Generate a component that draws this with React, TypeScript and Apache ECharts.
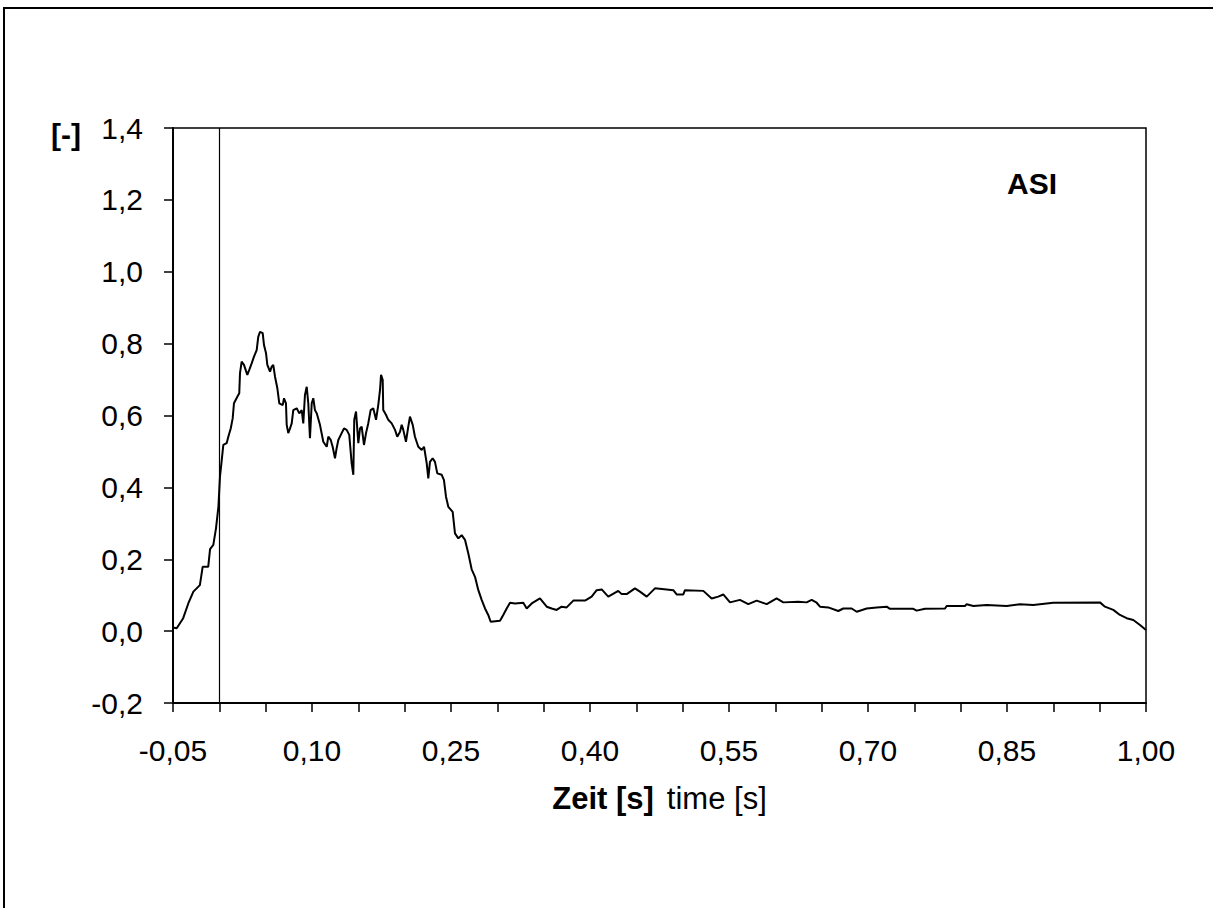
import React, { useEffect, useRef } from "react";
import * as echarts from "echarts";

const timeS = [
  -0.05, -0.046, -0.039, -0.0335, -0.028, -0.021, -0.018, -0.012, -0.010, -0.0065,
  -0.0036, -0.001, 0.0007, 0.0026, 0.0043, 0.0079, 0.0097, 0.0123, 0.0144, 0.0158,
  0.0194, 0.0215, 0.0223, 0.0241, 0.0266, 0.0302, 0.0323, 0.0349, 0.0374, 0.0403,
  0.042, 0.0439, 0.0468, 0.0482, 0.0504, 0.0518, 0.0547, 0.0565, 0.0582, 0.0601,
  0.0626, 0.0647, 0.0684, 0.0698, 0.0719, 0.0727, 0.0744, 0.0763, 0.0781, 0.0798,
  0.0835, 0.0863, 0.0889, 0.0906, 0.0924, 0.0943, 0.096, 0.0978, 0.0997, 0.1014,
  0.1032, 0.1051, 0.1086, 0.1122, 0.1159, 0.1176, 0.1202, 0.1223, 0.1248, 0.1266,
  0.1284, 0.132, 0.1345, 0.1374, 0.1402, 0.1428, 0.1446, 0.1456, 0.1475, 0.15,
  0.1518, 0.1536, 0.1561, 0.1583, 0.1607, 0.1633, 0.1661, 0.1691, 0.1715, 0.1734,
  0.1745, 0.1763, 0.1769, 0.1798, 0.1823, 0.186, 0.1896, 0.192, 0.195, 0.1968,
  0.1985, 0.2014, 0.2039, 0.2057, 0.2087, 0.2111, 0.2147, 0.2184, 0.2209, 0.2238,
  0.2255, 0.2273, 0.2302, 0.2327, 0.2352, 0.24, 0.2424, 0.2446, 0.2471, 0.2518,
  0.2543, 0.2579, 0.2615, 0.2651, 0.2687, 0.2723, 0.2759, 0.2795, 0.2831, 0.2867,
  0.2902, 0.2928, 0.3029, 0.3064, 0.3101, 0.3137, 0.3191, 0.328, 0.3317, 0.3371,
  0.346, 0.3533, 0.3587, 0.364, 0.3694, 0.3748, 0.382, 0.3946, 0.4018, 0.4072,
  0.4126, 0.4197, 0.4305, 0.4342, 0.4396, 0.4485, 0.4539, 0.4612, 0.4701, 0.4827,
  0.4899, 0.4935, 0.5007, 0.5025, 0.5223, 0.5313, 0.5384, 0.5438, 0.5511, 0.5618,
  0.5708, 0.5799, 0.5907, 0.6014, 0.6086, 0.6248, 0.6338, 0.6392, 0.6446, 0.6482,
  0.6571, 0.6679, 0.6733, 0.6824, 0.6878, 0.6986, 0.7094, 0.7202, 0.7237, 0.7489,
  0.7525, 0.7615, 0.7831, 0.7849, 0.8046, 0.8065, 0.8136, 0.8281, 0.8496, 0.864,
  0.8783, 0.8999, 0.9503, 0.9557, 0.9647, 0.9719, 0.9791, 0.9863, 0.9935, 1.0,
];

const asiValue = [
  0.010, 0.008, 0.036, 0.077, 0.110, 0.128, 0.179, 0.179, 0.228, 0.240,
  0.286, 0.346, 0.430, 0.476, 0.518, 0.523, 0.541, 0.564, 0.592, 0.634,
  0.652, 0.662, 0.718, 0.750, 0.741, 0.713, 0.727, 0.745, 0.764, 0.782,
  0.819, 0.833, 0.829, 0.796, 0.773, 0.741, 0.722, 0.736, 0.741, 0.708,
  0.676, 0.634, 0.629, 0.648, 0.634, 0.574, 0.551, 0.564, 0.578, 0.615,
  0.620, 0.606, 0.615, 0.578, 0.657, 0.680, 0.634, 0.537, 0.634, 0.648,
  0.615, 0.606, 0.574, 0.527, 0.513, 0.541, 0.532, 0.513, 0.481, 0.509,
  0.532, 0.551, 0.564, 0.560, 0.546, 0.467, 0.435, 0.588, 0.611, 0.523,
  0.564, 0.569, 0.518, 0.551, 0.578, 0.615, 0.620, 0.588, 0.629, 0.671,
  0.713, 0.699, 0.615, 0.602, 0.588, 0.578, 0.560, 0.541, 0.555, 0.574,
  0.560, 0.527, 0.569, 0.597, 0.574, 0.541, 0.513, 0.504, 0.513, 0.467,
  0.425, 0.471, 0.481, 0.471, 0.439, 0.435, 0.420, 0.374, 0.346, 0.332,
  0.272, 0.258, 0.267, 0.254, 0.216, 0.172, 0.151, 0.114, 0.087, 0.063,
  0.045, 0.026, 0.029, 0.045, 0.063, 0.079, 0.077, 0.079, 0.063, 0.077,
  0.091, 0.068, 0.063, 0.059, 0.068, 0.066, 0.085, 0.085, 0.096, 0.114,
  0.116, 0.096, 0.112, 0.103, 0.103, 0.119, 0.110, 0.096, 0.119, 0.116,
  0.114, 0.102, 0.102, 0.114, 0.112, 0.091, 0.096, 0.102, 0.080, 0.087,
  0.075, 0.085, 0.075, 0.091, 0.080, 0.082, 0.080, 0.087, 0.079, 0.068,
  0.066, 0.056, 0.063, 0.063, 0.054, 0.063, 0.066, 0.068, 0.062, 0.062,
  0.057, 0.062, 0.063, 0.070, 0.070, 0.075, 0.070, 0.073, 0.070, 0.075,
  0.073, 0.079, 0.080, 0.068, 0.059, 0.045, 0.036, 0.031, 0.017, 0.003,
];

const xMin = -0.05;
const xMax = 1.0;
const xStep = 0.05;
const xLabelEvery = 3;
const yMin = -0.2;
const yMax = 1.4;
const yStep = 0.2;
const markerTime = 0;
const seriesName = "ASI";
const yUnit = "[-]";
const xTitleDe = "Zeit [s]";
const xTitleEn = "time [s]";

const FONT = "'Liberation Sans', Arial, Helvetica, sans-serif";

export default function App() {
  const ref = useRef<HTMLDivElement>(null);
  useEffect(() => {
    if (!ref.current) return;
    const chart = echarts.init(ref.current, undefined, { renderer: "svg" });
    const data = timeS.map((t, i) => [t, asiValue[i]]);
    chart.setOption({
      animation: false,
      backgroundColor: "#fff",
      textStyle: { fontFamily: FONT, color: "#000" },
      grid: {
        left: 173,
        top: 128,
        width: 973,
        height: 575,
        show: true,
        borderColor: "#000",
        borderWidth: 1.5,
        backgroundColor: "transparent",
      },
      xAxis: {
        type: "value",
        min: xMin,
        max: xMax,
        interval: xStep,
        axisLine: { show: true, onZero: false, lineStyle: { color: "#000", width: 2 } },
        axisTick: { show: true, inside: false, length: 9, lineStyle: { color: "#000", width: 1.5 } },
        splitLine: { show: false },
        axisLabel: {
          margin: 32,
          color: "#000",
          fontFamily: FONT,
          fontSize: 30,
          formatter: (v: number) => {
            const k = Math.round((v - xMin) / xStep);
            if (k % xLabelEvery !== 0) return "";
            const val = Math.abs(v) < 1e-9 ? 0 : v;
            return val.toFixed(2).replace(".", ",");
          },
        },
        name: `{b|${xTitleDe}}{g| }{n|${xTitleEn}}`,
        nameLocation: "middle",
        nameGap: 80,
        nameTextStyle: {
          rich: {
            b: { fontFamily: FONT, fontSize: 31, fontWeight: "bold", color: "#000" },
            g: { fontFamily: FONT, fontSize: 31, color: "#000", width: 13 },
            n: { fontFamily: FONT, fontSize: 31, color: "#000" },
          },
        },
      },
      yAxis: {
        type: "value",
        min: yMin,
        max: yMax,
        interval: yStep,
        axisLine: { show: true, onZero: false, lineStyle: { color: "#000", width: 2 } },
        axisTick: { show: true, inside: false, length: 9, lineStyle: { color: "#000", width: 1.5 } },
        splitLine: { show: false },
        axisLabel: {
          margin: 30,
          color: "#000",
          fontFamily: FONT,
          fontSize: 30,
          formatter: (v: number) => {
            const val = Math.abs(v) < 1e-9 ? 0 : v;
            return val.toFixed(1).replace(".", ",");
          },
        },
      },
      graphic: [
        {
          type: "rect",
          shape: { x: 4, y: 8, width: 1400, height: 1100 },
          style: { fill: "none", stroke: "#000", lineWidth: 2 },
          silent: true,
        },
        {
          type: "text",
          x: 51,
          y: 134,
          style: {
            text: yUnit,
            fontFamily: FONT,
            fontSize: 30,
            fontWeight: "bold",
            fill: "#000",
            verticalAlign: "middle",
          },
        },
        {
          type: "text",
          x: 1007,
          y: 183,
          style: {
            text: seriesName,
            fontFamily: FONT,
            fontSize: 30,
            fontWeight: "bold",
            fill: "#000",
            verticalAlign: "middle",
          },
        },
      ],
      series: [
        {
          type: "line",
          name: seriesName,
          data,
          symbol: "none",
          lineStyle: { color: "#000", width: 2 },
          markLine: {
            silent: true,
            symbol: "none",
            label: { show: false },
            lineStyle: { color: "#000", width: 1.2, type: "solid" },
            data: [{ xAxis: markerTime }],
          },
        },
      ],
    });
    return () => chart.dispose();
  }, []);
  return (
    <div
      ref={ref}
      style={{ position: "absolute", left: 0, top: 0, width: 1213, height: 908 }}
    />
  );
}
